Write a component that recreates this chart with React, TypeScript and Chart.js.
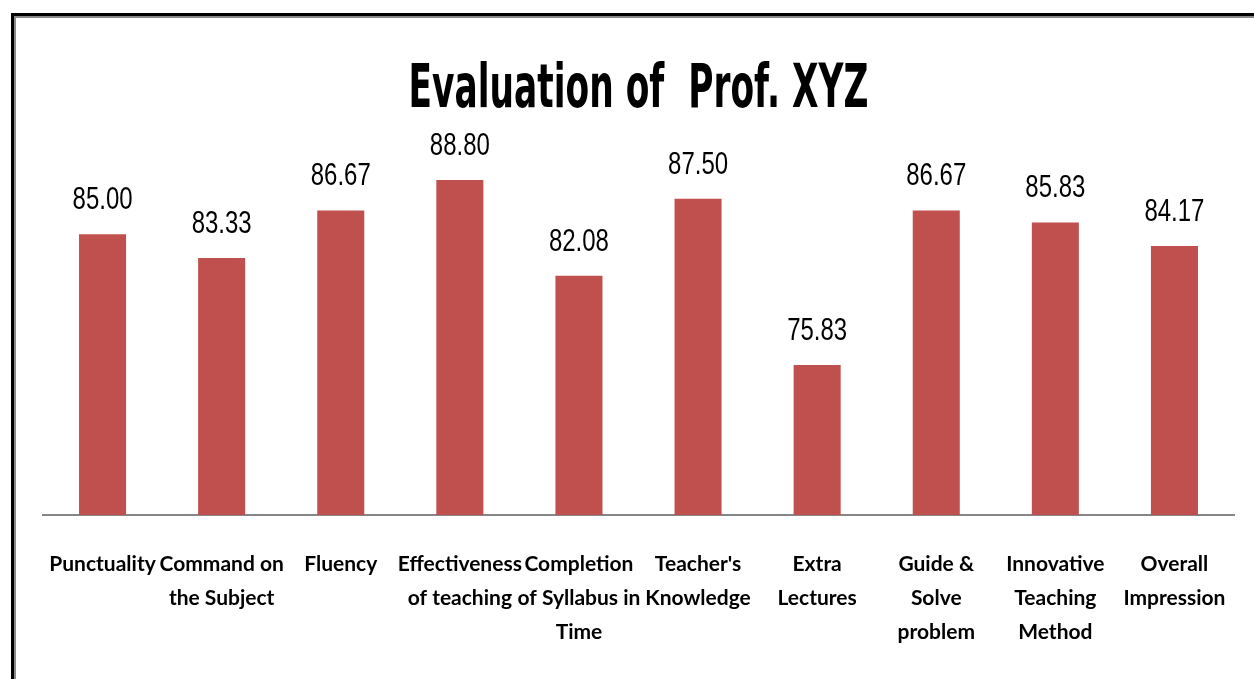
import React, { useEffect, useRef } from 'react';
import { Chart, registerables } from 'chart.js';

Chart.register(...registerables);

const categories: string[][] = [
  ['Punctuality'],
  ['Command on', 'the Subject'],
  ['Fluency'],
  ['Effectiveness', 'of teaching'],
  ['Completion', 'of Syllabus in', 'Time'],
  ["Teacher's", 'Knowledge'],
  ['Extra', 'Lectures'],
  ['Guide &', 'Solve', 'problem'],
  ['Innovative', 'Teaching', 'Method'],
  ['Overall', 'Impression'],
];
const scores: number[] = [85.0, 83.33, 86.67, 88.8, 82.08, 87.5, 75.83, 86.67, 85.83, 84.17];
const titleText = 'Evaluation of  Prof. XYZ';
const yMin = 65.3;
const yMax = 90;

const TITLE_FONT = '"DejaVu Sans Condensed", "DejaVu Sans", sans-serif';
const LABEL_FONT = '"Liberation Sans", Arial, sans-serif';
const TICK_FONT = 'Lato, "Liberation Sans", sans-serif';

const titlePlugin = {
  id: 'squeezedTitle',
  afterDraw(chart: any) {
    const ctx = chart.ctx;
    ctx.save();
    ctx.font = `bold 61px ${TITLE_FONT}`;
    ctx.fillStyle = '#000000';
    ctx.textAlign = 'center';
    ctx.textBaseline = 'alphabetic';
    const cx = (chart.chartArea.left + chart.chartArea.right) / 2;
    ctx.fillText(titleText, cx, 107, 460);
    ctx.restore();
  },
};

const valueLabelPlugin = {
  id: 'valueLabels',
  afterDatasetsDraw(chart: any) {
    const ctx = chart.ctx;
    const meta = chart.getDatasetMeta(0);
    const values = chart.data.datasets[0].data as number[];
    ctx.save();
    ctx.font = `31px ${LABEL_FONT}`;
    ctx.fillStyle = '#000000';
    ctx.textAlign = 'center';
    ctx.textBaseline = 'alphabetic';
    meta.data.forEach((bar: any, i: number) => {
      ctx.fillText(values[i].toFixed(2), bar.x, bar.y - 25, 60);
    });
    ctx.restore();
  },
};

export default function App() {
  const canvasRef = useRef<HTMLCanvasElement | null>(null);

  useEffect(() => {
    if (!canvasRef.current) return;
    const chart = new Chart(canvasRef.current, {
      type: 'bar',
      data: {
        labels: categories,
        datasets: [
          {
            data: scores,
            backgroundColor: '#C0504D',
            borderWidth: 0,
            categoryPercentage: 1,
            barPercentage: 0.395,
          },
        ],
      },
      options: {
        animation: false,
        responsive: false,
        devicePixelRatio: 1,
        layout: { padding: { top: 163, left: 43, right: 20, bottom: 0 } },
        plugins: {
          legend: { display: false },
          title: { display: false },
          tooltip: { enabled: false },
        },
        scales: {
          x: {
            grid: { display: false, drawTicks: false },
            border: { display: true, color: '#868686', width: 2 },
            ticks: {
              autoSkip: false,
              maxRotation: 0,
              minRotation: 0,
              padding: 32,
              color: '#000000',
              font: { family: TICK_FONT, size: 21, weight: 'bold', lineHeight: 34 / 21 },
            },
            afterFit: (scale: any) => {
              scale.height = 164;
              scale.paddingLeft = 0;
              scale.paddingRight = 0;
            },
          },
          y: {
            display: false,
            min: yMin,
            max: yMax,
          },
        },
      },
      plugins: [titlePlugin, valueLabelPlugin],
    });
    return () => chart.destroy();
  }, []);

  return (
    <div
      style={{
        position: 'fixed',
        left: 0,
        top: 0,
        width: 1254,
        height: 679,
        background: '#ffffff',
        overflow: 'hidden',
      }}
    >
      <canvas ref={canvasRef} width={1254} height={679} style={{ display: 'block', width: 1254, height: 679 }} />
      <div
        style={{
          position: 'absolute',
          left: 11,
          top: 13,
          width: 1300,
          height: 700,
          borderTop: '3px solid #000000',
          borderLeft: '3px solid #000000',
          pointerEvents: 'none',
        }}
      />
      <div
        style={{
          position: 'absolute',
          left: 14,
          top: 16,
          width: 1300,
          height: 700,
          borderTop: '2px solid #8a8a8a',
          borderLeft: '2px solid #8a8a8a',
          pointerEvents: 'none',
        }}
      />
    </div>
  );
}
